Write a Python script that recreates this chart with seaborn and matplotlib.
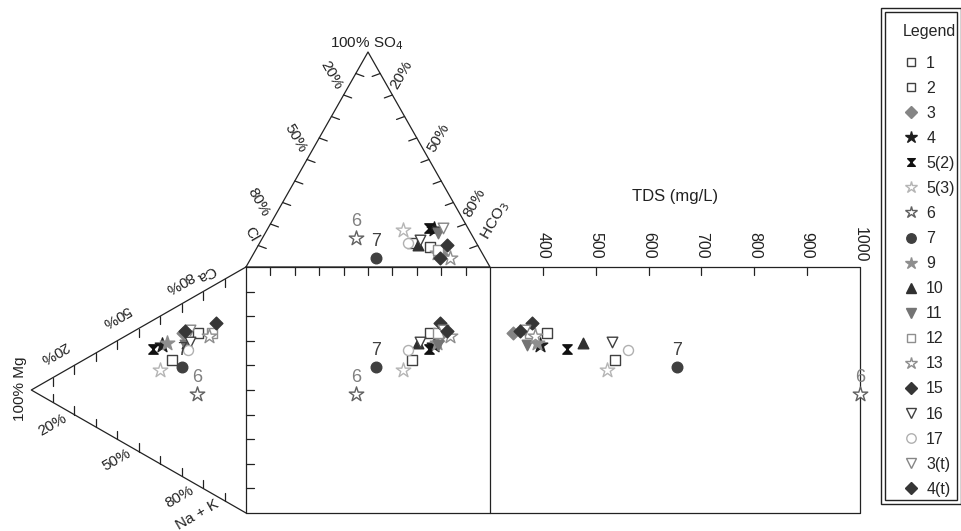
import numpy as np
import pandas as pd
import matplotlib
matplotlib.use("Agg")
import matplotlib.pyplot as plt
import seaborn as sns
from matplotlib.path import Path
from matplotlib.lines import Line2D
from matplotlib.patches import Rectangle

sns.set_style("white")
plt.rcParams["font.family"] = ["Liberation Sans", "DejaVu Sans"]

# ---------------- data ----------------
samples = ['1', '2', '3', '4', '5(2)', '5(3)', '6', '7', '9', '10', '11', '12',
           '13', '15', '16', '17', '3(t)', '4(t)']
hco3 = [70.7, 62.4, 77.5, 68.2, 65.9, 55.7, 38.3, 51.2, 75.0, 65.4, 70.8, 74.7,
        81.5, 77.4, 65.0, 60.8, 71.7, 77.3]
so4 = [9.3, 11.2, 5.6, 17.7, 18.1, 17.2, 13.5, 4.2, 6.5, 10.2, 15.8, 7.9,
       4.2, 4.2, 12.6, 11.2, 18.1, 10.2]
ca = [62.0, 44.9, 58.5, 48.7, 45.0, 38.1, 37.0, 44.4, 50.7, 55.4, 54.1, 65.3,
      63.4, 70.2, 56.5, 52.8, 61.4, 59.8]
mg = [22.4, 34.5, 29.3, 39.1, 43.3, 40.1, 22.8, 29.8, 36.8, 27.5, 28.4, 15.8,
      17.2, 14.0, 26.1, 27.0, 26.1, 28.4]
tds = [408, 536, 343, 395, 446, 521, 1000, 654, 389, 476, 370, 376,
       385, 379, 531, 561, 366, 357]
tds_ticks = [400, 500, 600, 700, 800, 900, 1000]
pct_labels = ['20%', '50%', '80%']
labelled = ['6', '7']

# ---------------- geometry ----------------
H = 0.874          # height of anion triangle (square side = 1)
W = 0.88           # width of cation triangle
TDS_MIN, TDS_MAX = 300, 1000
TDS_W = 370 / 244
L = 0.033          # tick length

df = pd.DataFrame({'sample': samples, 'hco3': hco3, 'so4': so4, 'ca': ca,
                   'mg': mg, 'tds': tds})
df['x_top'] = df.hco3 / 100 + 0.5 * df.so4 / 100
df['y_top'] = 1 + H * df.so4 / 100
df['x_left'] = -W * df.mg / 100
df['y_left'] = df.ca / 100 + 0.5 * df.mg / 100
df['x_tds'] = 1 + (df.tds - TDS_MIN) / (TDS_MAX - TDS_MIN) * TDS_W

hourglass = Path([(-1, 1), (1, 1), (-1, -1), (1, -1), (-1, 1)],
                 [Path.MOVETO, Path.LINETO, Path.LINETO, Path.LINETO, Path.CLOSEPOLY])

# marker, face, edge, plot size, legend size
styles = {
    '1': ('s', 'white', '#404040', 50, 6.0),
    '2': ('s', 'white', '#404040', 50, 6.0),
    '3': ('D', '#858585', '#858585', 42, 5.8),
    '4': ('*', '#1e1e1e', '#1e1e1e', 120, 9.0),
    '5(2)': (hourglass, '#111111', '#111111', 45, 5.5),
    '5(3)': ('*', 'white', '#b5b5b5', 120, 9.0),
    '6': ('*', 'white', '#606060', 120, 9.0),
    '7': ('o', '#404040', '#404040', 58, 6.8),
    '9': ('*', '#8e8e8e', '#8e8e8e', 120, 9.0),
    '10': ('^', '#303030', '#303030', 58, 7.0),
    '11': ('v', '#747474', '#747474', 58, 7.0),
    '12': ('s', 'white', '#8e8e8e', 50, 6.0),
    '13': ('*', 'white', '#8e8e8e', 120, 9.0),
    '15': ('D', '#363636', '#363636', 42, 5.8),
    '16': ('v', 'white', '#404040', 58, 7.0),
    '17': ('o', 'white', '#b0b0b0', 52, 6.8),
    '3(t)': ('v', 'white', '#858585', 58, 7.0),
    '4(t)': ('D', '#363636', '#363636', 42, 5.8),
}

fig = plt.figure(figsize=(9.62, 5.31), dpi=100)
ax = fig.add_axes([0, 0, 1, 1])
ax.set_xlim(-246 / 244, 716 / 244)
ax.set_ylim(-18 / 246, 513 / 246)
ax.axis('off')


def P(px, py):
    return ((px - 246) / 244, (513 - py) / 246)


lc = '#222222'
lw = 0.9
# outlines
ax.plot([0, 0.5, 1, 0], [1, 1 + H, 1, 1], color=lc, lw=lw)
ax.plot([0, -W, 0], [1, 0.5, 0], color=lc, lw=lw)
ax.plot([0, 1, 1, 0, 0], [0, 0, 1, 1, 0], color=lc, lw=lw)
ax.plot([1, 1 + TDS_W, 1 + TDS_W, 1], [1, 1, 0, 0], color=lc, lw=lw)

# ticks
for t in np.arange(1, 10) / 10:
    ax.plot([0.5 * t, 0.5 * t + L], [1 + H * t, 1 + H * t - 0.012], color=lc, lw=lw)
    ax.plot([1 - 0.5 * t, 1 - 0.5 * t - L], [1 + H * t, 1 + H * t - 0.012], color=lc, lw=lw)
    ax.plot([t, t], [1, 1 - L], color=lc, lw=lw)
    ax.plot([0, L], [t, t], color=lc, lw=lw)
    ax.plot([-W * t, -W * t], [1 - 0.5 * t, 1 - 0.5 * t - L], color=lc, lw=lw)
    ax.plot([-W * t, -W * t], [0.5 * t, 0.5 * t + L], color=lc, lw=lw)
for v in tds_ticks[:-1]:
    x = 1 + (v - TDS_MIN) / (TDS_MAX - TDS_MIN) * TDS_W
    ax.plot([x, x], [1, 1 - L], color=lc, lw=lw)
for v in tds_ticks:
    x = 1 + (v - TDS_MIN) / (TDS_MAX - TDS_MIN) * TDS_W
    ax.text(x, P(0, 245)[1], str(v), rotation=270, ha='center', va='center',
            fontsize=11.5, color='#222222')

# axis texts
tk = dict(fontsize=11, color='#222222', ha='center', va='center', rotation_mode='anchor')
ax.text(*P(367, 44), '100% SO$_4$', **tk)
for lab, (px, py) in zip(pct_labels, [(331, 75), (295, 138), (258, 202)]):
    ax.text(*P(px, py), lab, rotation=-60, **tk)
ax.text(*P(251, 234), 'Cl', rotation=-60, **tk)
for lab, (px, py) in zip(pct_labels, [(401, 75), (439, 138), (475, 203)]):
    ax.text(*P(px, py), lab, rotation=60, **tk)
ax.text(*P(495, 221), 'HCO$_3$', rotation=60, **tk)
for lab, (px, py) in zip(pct_labels, [(54, 352), (116, 316), (179, 282)]):
    ax.text(*P(px, py), lab, rotation=210, **tk)
ax.text(*P(206, 273), 'Ca', rotation=210, **tk)
for lab, (px, py) in zip(pct_labels, [(52, 425), (117, 460), (180, 497)]):
    ax.text(*P(px, py), lab, rotation=30, **tk)
ax.text(*P(197, 515), 'Na + K', rotation=30, **tk)
ax.text(*P(20, 389), '100% Mg', rotation=90, **tk)
ax.text(*P(675, 197), 'TDS (mg/L)', **dict(tk, fontsize=12))

# points
for _, r in df.iterrows():
    m, fc, ec, s, _ls = styles[r['sample']]
    for xc, yc in [('x_top', 'y_top'), ('x_left', 'y_left'),
                   ('x_top', 'y_left'), ('x_tds', 'y_left')]:
        sns.scatterplot(x=[r[xc]], y=[r[yc]], marker=m, s=s, color=fc,
                        edgecolor=ec, linewidth=1.0, ax=ax, legend=False,
                        zorder=3, clip_on=False)
    if r['sample'] in labelled:
        tcol = '#808080' if r['sample'] == '6' else '#404040'
        for xc, yc in [('x_top', 'y_top'), ('x_left', 'y_left'),
                       ('x_top', 'y_left'), ('x_tds', 'y_left')]:
            ax.text(r[xc], r[yc] + 0.066, r['sample'], fontsize=13, color=tcol,
                    ha='center', va='center', zorder=4)

# legend
handles = []
for sname in samples:
    m, fc, ec, s, ls = styles[sname]
    handles.append(Line2D([], [], linestyle='none', marker=m, markersize=ls,
                          markerfacecolor=fc, markeredgecolor=ec, markeredgewidth=1.0))
leg = fig.legend(handles, samples, loc='upper left',
                 bbox_to_anchor=(895 / 962, 1 - 16 / 531), title='Legend',
                 fontsize=11.5, title_fontsize=11.5, frameon=False,
                 handlelength=1.0, handletextpad=0.45,
                 labelspacing=0.63, borderpad=0.0, alignment='left')
leg._legend_box.sep = 12
for (x0, y0, x1, y1) in [(881, 8, 961, 504), (885, 12, 957, 500)]:
    fig.patches.append(Rectangle((x0 / 962, 1 - y1 / 531), (x1 - x0) / 962,
                                 (y1 - y0) / 531, transform=fig.transFigure,
                                 fill=False, edgecolor='#222222', lw=1.0))

fig.savefig('out.png', dpi=100)
